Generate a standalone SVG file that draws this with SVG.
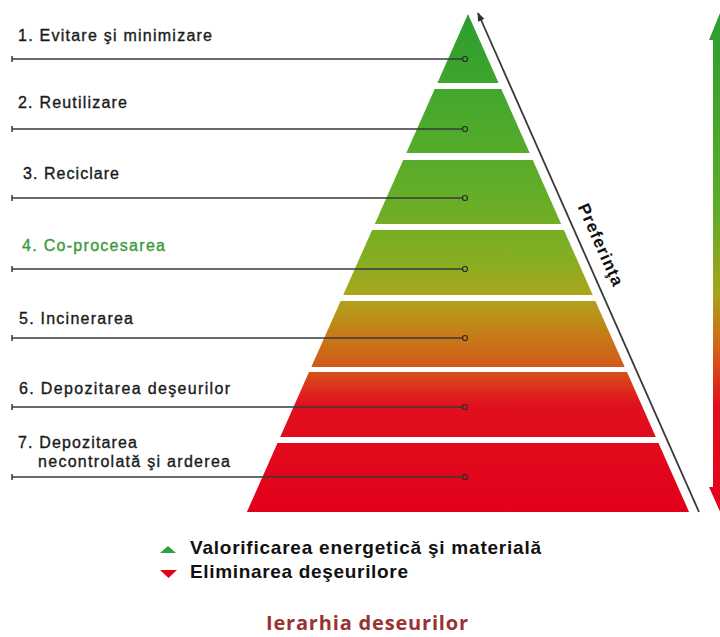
<svg xmlns="http://www.w3.org/2000/svg" width="720" height="637" viewBox="0 0 720 637">
  <defs>
    <linearGradient id="pyr" gradientUnits="userSpaceOnUse" x1="0" y1="14" x2="0" y2="512">
      <stop offset="0" stop-color="#2a9d2e"/>
      <stop offset="0.173" stop-color="#45a82e"/>
      <stop offset="0.353" stop-color="#62ad27"/>
      <stop offset="0.494" stop-color="#86ae23"/>
      <stop offset="0.574" stop-color="#b0a31a"/>
      <stop offset="0.645" stop-color="#c67c18"/>
      <stop offset="0.715" stop-color="#d55418"/>
      <stop offset="0.785" stop-color="#e0101e"/>
      <stop offset="1" stop-color="#e2001a"/>
    </linearGradient>
    <linearGradient id="side" gradientUnits="userSpaceOnUse" x1="0" y1="10" x2="0" y2="515">
      <stop offset="0" stop-color="#2a9d2e"/>
      <stop offset="0.4" stop-color="#5fab28"/>
      <stop offset="0.56" stop-color="#a8a31c"/>
      <stop offset="0.66" stop-color="#d26a18"/>
      <stop offset="0.78" stop-color="#e0101e"/>
      <stop offset="1" stop-color="#e2001a"/>
    </linearGradient>
    <marker id="pref" viewBox="0 0 10 10" refX="9" refY="5" markerWidth="9" markerHeight="9" markerUnits="userSpaceOnUse" orient="auto">
      <path d="M0,1 L10,5 L0,9 Z" fill="#333"/>
    </marker>
  </defs>
  <style>
    .band { fill: url(#pyr); }
    .lbl { font-family: "Liberation Sans", Arial, sans-serif; font-size: 16px; fill: #1a1a1a; stroke: #1a1a1a; stroke-width: 0.35px; }
    .green { fill: #3a9a3a; stroke: #3a9a3a; }
    .lead { stroke: #3a3a3a; stroke-width: 1.5; fill: none; }
    .dot { stroke: #2a2a2a; stroke-width: 1.2; fill: none; }
    .leg { font-family: "Liberation Sans", Arial, sans-serif; font-size: 19px; font-weight: bold; fill: #111; }
    .title { font-family: "Open Sans", "Liberation Sans", sans-serif; font-size: 20px; font-weight: bold; fill: #993333; }
    .pref { font-family: "Liberation Sans", Arial, sans-serif; font-size: 17px; font-weight: bold; fill: #111; }
  </style>

  <rect x="0" y="0" width="720" height="637" fill="#ffffff"/>

  <g id="pyramid">
    <g id="level1"><polygon class="band" points="468,14 498.6,83 437.4,83"/></g>
    <g id="level2"><polygon class="band" points="434.7,89 501.3,89 529.7,153 406.3,153"/></g>
    <g id="level3"><polygon class="band" points="403.2,160 532.8,160 561.2,224 374.8,224"/></g>
    <g id="level4"><polygon class="band" points="372.1,230 563.9,230 592.8,295 343.2,295"/></g>
    <g id="level5"><polygon class="band" points="340.6,301 595.4,301 624.7,367 311.3,367"/></g>
    <g id="level6"><polygon class="band" points="309,372 627,372 655.8,437 280.2,437"/></g>
    <g id="level7"><polygon class="band" points="277.5,443 658.5,443 689.1,512 246.9,512"/></g>
  </g>

  <g id="labels">
    <g id="label1"><text class="lbl" x="18" y="41" textLength="194" lengthAdjust="spacing">1. Evitare şi minimizare</text></g>
    <g id="label2"><text class="lbl" x="18" y="108" textLength="109" lengthAdjust="spacing">2. Reutilizare</text></g>
    <g id="label3"><text class="lbl" x="23" y="179" textLength="96" lengthAdjust="spacing">3. Reciclare</text></g>
    <g id="label4"><text class="lbl green" x="22" y="251" textLength="143" lengthAdjust="spacing">4. Co-procesarea</text></g>
    <g id="label5"><text class="lbl" x="19" y="324" textLength="114" lengthAdjust="spacing">5. Incinerarea</text></g>
    <g id="label6"><text class="lbl" x="19" y="394" textLength="211" lengthAdjust="spacing">6. Depozitarea deşeurilor</text></g>
    <g id="label7">
      <text class="lbl" x="18" y="448" textLength="119" lengthAdjust="spacing">7. Depozitarea</text>
      <text class="lbl" x="38" y="467" textLength="192" lengthAdjust="spacing">necontrolată şi arderea</text>
    </g>
  </g>

  <g id="connectors">
    <path class="lead" d="M12,59 H462.5 M12,56 V62"/>
    <circle class="dot" cx="465" cy="59" r="2.5"/>
    <path class="lead" d="M12,129 H462.5 M12,126 V132"/>
    <circle class="dot" cx="465" cy="129" r="2.5"/>
    <path class="lead" d="M12,198 H462.5 M12,195 V201"/>
    <circle class="dot" cx="465" cy="198" r="2.5"/>
    <path class="lead" d="M12,269 H462.5 M12,266 V272"/>
    <circle class="dot" cx="465" cy="269" r="2.5"/>
    <path class="lead" d="M12,338 H462.5 M12,335 V341"/>
    <circle class="dot" cx="465" cy="338" r="2.5"/>
    <path class="lead" d="M12,407 H462.5 M12,404 V410"/>
    <circle class="dot" cx="465" cy="407" r="2.5"/>
    <path class="lead" d="M12,477 H462.5 M12,474 V480"/>
    <circle class="dot" cx="465" cy="477" r="2.5"/>
    <line x1="699" y1="512" x2="478" y2="13" stroke="#3a3a3a" stroke-width="1.8" marker-end="url(#pref)"/>
  </g>

  <g id="preferinta">
    <text class="pref" transform="translate(600,245) rotate(66.1)" x="0" y="5" text-anchor="middle" textLength="88" lengthAdjust="spacing">Preferinţa</text>
  </g>

  <g id="side-arrow">
    <polygon fill="url(#side)" points="722,8 735,40 731,40 731,487 735,487 722,516 709,487 713,487 713,40 709,40"/>
  </g>

  <g id="legend">
    <polygon fill="#2aa03a" points="160,553 176,553 168,546"/>
    <text class="leg" x="190" y="554" textLength="351" lengthAdjust="spacing">Valorificarea energetică şi materială</text>
    <polygon fill="#e2001a" points="160,570 177,570 168.5,578"/>
    <text class="leg" x="190" y="578" textLength="218" lengthAdjust="spacing">Eliminarea deşeurilore</text>
  </g>

  <g id="title">
    <text class="title" x="266" y="630" textLength="202" lengthAdjust="spacing">Ierarhia deseurilor</text>
  </g>
</svg>
